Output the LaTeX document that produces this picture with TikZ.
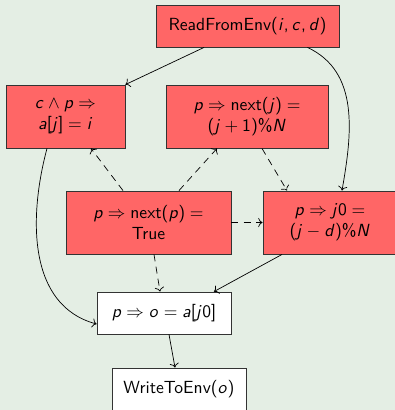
\documentclass[tikz,border=0pt]{standalone}
\usepackage{amsmath}
\usepackage{tikz}
\usetikzlibrary{arrows.meta,positioning,shadows,calc}
\renewcommand{\familydefault}{\sfdefault}
% sans serif math, as on slides
\DeclareSymbolFont{operators}{OT1}{cmss}{m}{n}
\IfFileExists{OMLmathkerncmss.fd}{%
  \DeclareSymbolFont{letters}{OML}{mathkerncmss}{m}{sl}}{%
  \DeclareSymbolFont{letters}{OT1}{cmss}{m}{sl}%
  \DeclareMathSymbol{,}{\mathpunct}{operators}{"2C}}
\definecolor{envbg}{HTML}{E4EEE4}
\definecolor{goalred}{HTML}{FF6666}
\definecolor{boxedge}{HTML}{333333}

\begin{document}
\begin{tikzpicture}[x=0.02cm, y=-0.02cm, every node/.style={font=\sffamily}]
    \tikzstyle{goal}=[draw=boxedge,fill=goalred,line width=0.5pt,align=center,inner sep=2pt,drop shadow={shadow xshift=0.5pt,shadow yshift=-0.5pt,fill=black!70,opacity=0.8}]
    \tikzstyle{plain}=[goal,fill=white]
    \tikzstyle{dep}=[->,dash pattern=on 4pt off 3pt]
    \fill[envbg] (0,0) rectangle (395,410);
    \useasboundingbox (0,0) rectangle (395,410);
    \node[goal,minimum width=3.66cm,minimum height=0.84cm] (read) at (247.5,26) {ReadFromEnv$(i,c,d)$};
    \node[goal,minimum width=2.38cm,minimum height=1.26cm] (store) at (65.5,116.5) {$c \wedge p \Rightarrow$\\$a[j] = i$};
    \node[goal,minimum width=3.24cm,minimum height=1.26cm] (nextj) at (247,116.5) {$p \Rightarrow \text{next}(j) =$\\$(j+1)\%N$};
    \node[goal,minimum width=3.3cm,minimum height=1.26cm] (nextp) at (148.5,222.5) {$p \Rightarrow \text{next}(p) =$\\True};
    \node[goal,minimum width=2.68cm,minimum height=1.26cm] (jzero) at (330,222.5) {$p \Rightarrow j0 =$\\$(j-d)\%N$};
    \node[plain,minimum width=2.68cm,minimum height=0.84cm] (out) at (164,313) {$p \Rightarrow o = a[j0]$};
    \node[plain,minimum width=2.68cm,minimum height=0.84cm] (write) at (179,389) {WriteToEnv$(o)$};
    % solid edges
    \draw[->] ([xshift=-0.87cm]read.south) -- (store.north east);
    \draw[->] ([xshift=1.2cm]read.south) to[out=-25,in=80] ([xshift=0.24cm]jzero.north);
    \draw[->] ([xshift=-0.37cm]store.south) to[out=-105,in=165] ([yshift=-0.22cm]out.west);
    \draw[->] ([xshift=-0.96cm]jzero.south) -- ([xshift=1cm]out.north);
    \draw[->] ([xshift=0.1cm]out.south) -- ([xshift=-0.08cm]write.north);
    % dashed edges
    \draw[dep] ([xshift=-0.51cm]nextp.north) -- ([xshift=0.51cm]store.south);
    \draw[dep] ([xshift=0.61cm]nextp.north) -- ([xshift=-0.6cm]nextj.south);
    \draw[dep] ([xshift=0.3cm]nextj.south) -- ([xshift=-0.86cm]jzero.north);
    \draw[dep] (nextp.east) -- (jzero.west);
    \draw[dep] ([xshift=0.11cm]nextp.south) -- ([xshift=-0.08cm]out.north);
\end{tikzpicture}
\end{document}
